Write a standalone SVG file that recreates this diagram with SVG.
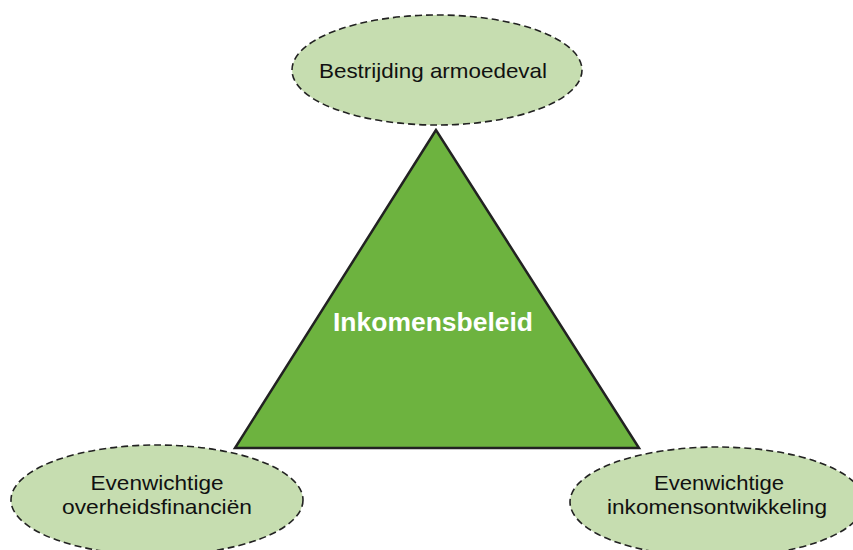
<svg xmlns="http://www.w3.org/2000/svg" width="853" height="550" viewBox="0 0 853 550">
<style>
.oval{fill:#c6ddb0;stroke:#222;stroke-width:1.6;stroke-dasharray:7 4}
.lbl{font-family:"Liberation Sans",Arial,sans-serif;font-size:21px;fill:#111;text-anchor:middle}
.main{font-family:"Liberation Sans",Arial,sans-serif;font-size:26px;font-weight:bold;fill:#fff;text-anchor:middle}
</style>
<rect width="853" height="550" fill="#fff"/>
<g id="connectors"></g>
<g id="inkomensbeleid">
<polygon points="436,130 235,448 639,448" fill="#6db33f" stroke="#222" stroke-width="2.5" stroke-linejoin="miter"/>
<text class="main" x="433" y="331" textLength="200" lengthAdjust="spacingAndGlyphs">Inkomensbeleid</text>
</g>
<g id="armoedeval">
<ellipse class="oval" cx="437" cy="70" rx="145" ry="55"/>
<text class="lbl" x="433" y="78" textLength="228" lengthAdjust="spacingAndGlyphs">Bestrijding armoedeval</text>
</g>
<g id="overheidsfinancien">
<ellipse class="oval" cx="157" cy="500" rx="146" ry="55"/>
<text class="lbl" x="157" y="490" textLength="133" lengthAdjust="spacingAndGlyphs">Evenwichtige</text>
<text class="lbl" x="157" y="514" textLength="190" lengthAdjust="spacingAndGlyphs">overheidsfinanciën</text>
</g>
<g id="inkomensontwikkeling">
<ellipse class="oval" cx="717" cy="502" rx="147" ry="55"/>
<text class="lbl" x="719" y="490" textLength="130" lengthAdjust="spacingAndGlyphs">Evenwichtige</text>
<text class="lbl" x="717" y="514" textLength="220" lengthAdjust="spacingAndGlyphs">inkomensontwikkeling</text>
</g>
</svg>
